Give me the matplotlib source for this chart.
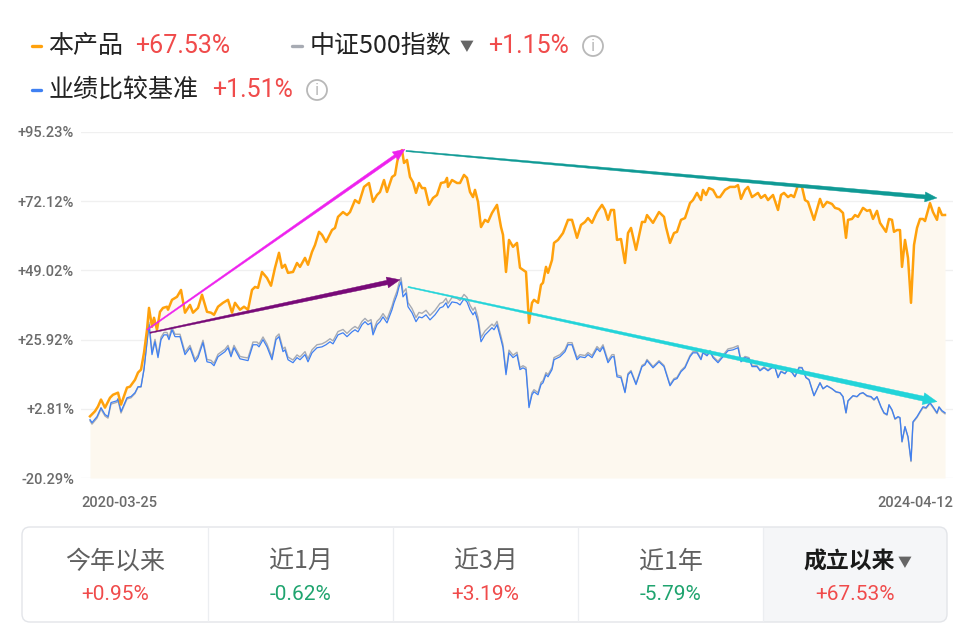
import numpy as np
import matplotlib
matplotlib.use('Agg')
import matplotlib.pyplot as plt
from matplotlib.patches import Polygon, FancyBboxPatch, Rectangle, Circle
from matplotlib.transforms import IdentityTransform

plt.rcParams['font.family'] = ['Noto Sans CJK SC', 'DejaVu Sans']

# ---------------- data ----------------
# session index (0 = 2020-03-25, 855 = 2024-04-12)
product_t = [0,5,8,11,15,20,23,28,31,37,
 40,45,48,51,54,57,59,62,64,67,
 70,73,77,78,82,87,91,95,100,103,
 108,112,117,121,124,128,133,138,142,145,
 150,154,158,162,165,168,172,177,181,185,
 189,192,195,198,203,207,210,215,218,222,
 225,229,232,236,242,245,248,253,257,260,
 265,269,274,279,283,287,290,294,297,302,
 305,307,309,312,314,317,320,323,326,329,
 332,335,339,343,347,351,355,357,358,362,
 367,370,374,377,380,383,385,388,391,395,
 398,402,407,411,413,416,419,423,427,430,
 433,436,439,442,444,448,451,453,456,458,
 462,464,468,473,478,482,487,491,495,498,
 502,507,512,515,518,521,524,527,531,535,
 538,541,546,552,555,557,563,569,574,576,
 580,584,587,591,595,600,603,607,611,613,
 616,619,623,627,630,635,640,645,648,651,
 655,658,662,665,668,671,675,678,683,688,
 691,694,698,701,704,708,712,715,718,724,
 730,733,737,742,745,749,753,756,758,762,
 765,768,773,777,780,783,787,790,796,799,
 802,804,807,810,812,815,818,821,824,827,
 830,833,835,840,843,847,849,852,855]
product_v = [0.3,2.0,3.6,5.9,3.2,6.5,7.5,8.2,4.2,9.9,
 10.2,12.5,14.9,15.9,21.5,29.2,36.5,30.2,33.2,29.2,
 35.2,36.5,36.9,35.9,39.2,40.2,42.5,34.9,37.5,34.9,
 36.5,40.9,35.2,34.9,34.2,36.9,38.2,39.2,34.9,38.2,
 35.9,36.9,35.9,42.5,43.5,43.2,48.5,46.5,43.9,49.9,
 54.9,49.9,50.9,48.2,48.5,51.5,50.2,53.2,50.9,55.2,
 57.5,61.9,60.9,58.5,62.5,63.2,66.9,68.5,67.5,68.5,
 72.5,71.5,76.9,78.2,71.9,74.2,75.2,79.2,75.2,80.2,
 80.9,84.9,88.2,89.2,84.9,85.9,80.2,78.5,74.9,78.2,
 76.5,76.5,70.9,73.2,74.2,78.2,78.5,79.9,76.9,79.2,
 78.2,78.2,80.9,79.9,75.2,73.5,75.9,71.9,63.5,65.9,
 65.2,68.2,70.9,63.5,60.9,48.5,59.2,56.9,58.2,49.9,
 49.2,48.5,31.5,38.2,39.2,38.2,44.2,44.9,50.2,48.2,
 52.5,58.2,59.2,61.5,65.9,65.9,59.9,64.2,65.2,66.5,
 64.9,68.5,70.9,69.2,65.9,69.2,69.2,59.2,59.5,51.5,
 61.5,63.2,55.9,65.2,65.2,67.5,64.9,68.5,66.9,63.5,
 58.2,61.5,61.9,65.9,66.5,71.5,72.5,74.9,72.5,75.9,
 74.2,76.5,75.9,73.5,73.5,75.9,76.9,76.9,77.5,72.9,
 75.9,76.9,73.5,74.2,74.9,73.2,74.2,72.5,74.2,69.2,
 74.2,74.9,73.5,74.2,73.5,77.5,76.9,72.5,71.9,65.9,
 72.9,70.2,71.9,71.2,69.9,69.5,68.2,59.9,65.9,66.2,
 67.5,66.9,69.9,68.9,69.2,66.2,68.9,64.9,61.9,66.2,
 65.9,61.9,62.5,62.5,50.2,59.2,53.2,38.2,57.5,63.2,
 66.2,66.2,65.5,71.5,68.5,65.9,69.9,67.5,67.53]

bench_t = [0,2,7,11,15,18,21,27,28,31,
 37,41,45,48,51,54,57,59,62,65,
 68,71,74,77,79,82,85,90,95,100,
 105,108,113,117,121,124,128,135,138,141,
 144,150,154,158,163,167,169,173,177,182,
 186,189,193,195,198,203,207,210,215,218,
 222,227,232,236,240,243,248,253,257,262,
 265,268,272,275,278,281,283,287,290,293,
 297,302,304,307,309,311,313,316,318,322,
 326,329,332,336,340,345,350,353,356,358,
 362,367,370,374,377,380,383,385,388,391,
 395,398,402,404,407,411,413,416,419,423,
 427,430,433,436,439,442,444,448,451,453,
 456,458,462,464,470,475,478,482,487,490,
 495,498,502,507,510,513,518,522,524,527,
 531,535,538,541,546,552,555,557,563,569,
 574,580,584,587,591,595,600,603,607,611,
 613,617,620,623,628,633,638,643,648,651,
 655,659,662,667,670,674,678,682,685,688,
 691,695,698,702,705,709,712,716,719,724,
 730,733,737,742,746,750,753,756,758,763,
 767,770,773,777,781,784,787,791,794,797,
 799,802,805,808,810,812,815,818,821,823,
 827,830,833,836,840,843,847,849,852,855]
bench_v = [-0.8,-1.8,0.2,3.2,0.9,0.2,4.9,5.5,6.2,1.9,
 6.5,6.9,8.2,10.2,10.2,15.9,24.9,30.9,20.9,25.2,
 19.9,25.9,27.5,27.5,25.9,29.2,26.9,26.9,20.9,23.2,
 18.5,19.9,24.9,18.5,18.2,17.2,20.2,21.9,23.2,20.2,
 23.2,19.5,19.2,18.9,24.2,24.2,23.5,25.9,23.5,19.2,
 25.9,26.9,21.9,22.5,19.2,18.2,19.9,19.2,20.9,18.5,
 21.5,23.2,23.5,24.2,25.2,24.5,27.5,28.2,26.9,28.5,
 29.2,28.5,30.9,31.9,30.9,31.5,27.5,30.9,31.9,33.5,
 31.5,35.9,38.2,40.9,43.5,45.2,40.2,41.5,36.9,34.9,
 31.9,33.5,33.2,34.2,32.5,34.2,36.5,36.9,38.2,36.5,
 38.5,38.2,37.5,39.5,38.5,35.9,34.2,35.2,31.9,25.2,
 27.5,28.5,29.9,29.2,30.9,25.9,23.2,14.2,21.5,19.9,
 20.9,15.9,16.5,15.9,3.2,7.5,8.5,7.5,10.9,11.5,
 14.2,13.5,15.9,19.2,20.2,21.9,24.2,24.2,19.2,20.2,
 19.9,20.9,19.9,22.9,21.9,23.5,18.2,20.2,20.2,13.5,
 13.2,8.2,14.2,15.2,10.9,16.9,17.5,18.9,16.5,18.5,
 16.9,10.5,12.5,12.9,15.2,16.5,20.2,21.5,21.5,19.2,
 21.5,20.5,21.9,19.9,18.2,20.2,22.2,22.5,23.2,18.5,
 19.9,19.5,16.9,16.9,15.5,16.5,15.5,16.5,16.5,13.2,
 15.2,14.5,15.9,14.9,13.5,16.5,16.5,13.2,12.5,7.2,
 11.5,9.5,10.5,9.5,8.5,8.2,6.9,1.5,5.5,7.2,
 6.9,7.9,8.2,7.2,6.9,5.9,6.9,3.5,1.5,0.9,
 4.2,2.5,-0.5,0.2,-0.1,-8.1,-3.1,-6.5,-14.5,-1.5,
 0.2,1.9,3.5,3.2,4.9,3.5,1.5,3.5,2.2,1.51]
index_v = [-1.2,-2.3,-0.3,2.7,0.4,-0.3,4.4,5.0,5.7,1.4,
 6.1,6.5,7.9,10.0,10.1,16.2,25.6,31.7,21.8,26.0,
 20.7,26.7,28.3,28.3,26.7,30.0,27.7,27.7,21.7,24.0,
 19.3,20.7,25.7,19.3,19.0,18.0,21.0,22.7,24.0,21.0,
 24.0,20.3,20.0,19.8,25.1,25.1,24.4,26.8,24.4,20.1,
 26.8,27.8,22.8,23.4,20.1,19.1,20.8,20.1,21.9,19.5,
 22.5,24.2,24.5,25.2,26.2,25.5,28.6,29.3,28.0,29.6,
 30.3,29.6,32.0,33.0,32.0,32.6,28.6,32.0,33.0,34.6,
 32.7,37.1,39.4,42.1,44.8,46.6,41.6,42.9,38.3,36.3,
 33.3,35.0,34.7,35.7,34.0,35.7,38.0,38.4,39.7,38.0,
 40.0,39.7,39.0,41.0,40.0,37.4,35.7,36.7,33.3,26.6,
 28.8,29.8,31.1,30.4,32.0,27.0,24.2,15.1,22.4,20.7,
 21.7,16.6,17.2,16.6,3.9,8.2,9.2,8.2,11.6,12.2,
 14.9,14.2,16.6,19.9,20.9,22.6,24.9,24.9,19.9,20.9,
 20.6,21.6,20.6,23.6,22.6,24.2,18.9,20.9,20.9,14.1,
 13.7,8.6,14.6,15.6,11.3,17.3,17.9,19.3,16.9,18.9,
 17.3,10.9,12.9,13.3,15.6,16.9,20.6,21.9,21.9,19.6,
 21.9,20.9,22.3,20.3,18.7,20.7,22.8,23.2,23.9,19.0,
 20.3,19.9,17.3,17.2,15.8,16.8,15.8,16.8,16.8,13.4,
 15.4,14.7,16.1,15.1,13.6,16.7,16.6,13.3,12.6,7.2,
 11.5,9.5,10.5,9.5,8.4,8.1,6.8,1.4,5.4,7.1,
 6.8,7.8,8.1,7.0,6.7,5.7,6.7,3.3,1.3,0.7,
 4.0,2.3,-0.7,0.0,-0.3,-8.3,-3.3,-6.7,-14.8,-1.8,
 -0.1,1.6,3.2,2.9,4.6,3.2,1.2,3.2,1.9,1.15]

y_ticks = [95.23, 72.12, 49.02, 25.92, 2.81, -20.29]
date_labels = ['2020-03-25', '2024-04-12']

legend_names = ['本产品', '中证500指数', '业绩比较基准']
legend_returns = [67.53, 1.15, 1.51]

period_names = ['今年以来', '近1月', '近3月', '近1年', '成立以来']
period_returns = [0.95, -0.62, 3.19, -5.79, 67.53]

# trend arrows: (t_start, v_start, t_end, v_end)
arrow_segments = [(57, 29.2, 315, 89.5), (60, 28.2, 310, 45.9),
                  (316, 88.9, 847, 73.2), (318, 43.5, 847, 5.2)]

# ---------------- style ----------------
W, H, DPI = 957, 628, 100
C_PRODUCT = '#ffa10c'
C_INDEX = '#a7abb3'
C_BENCH = '#3f80f2'
C_RED = '#f04b4b'
C_GREEN = '#1fa46f'
C_TICK = '#6b6b6b'
arrow_styles = [('#ee22ee', 3.0, 12, 10), ('#780a78', 4.5, 13, 11),
                ('#0f9a95', 4.0, 12, 10), ('#22d4d9', 5.0, 14, 12)]

fig = plt.figure(figsize=(W / DPI, H / DPI), dpi=DPI)
fig.patch.set_facecolor('white')


def fx(px):
    return px / W


def fy(py):
    return 1 - py / H


# overlay in pixel coordinates for legend and period tabs
ov = fig.add_axes([0, 0, 1, 1], zorder=-1)
ov.set_xlim(0, W)
ov.set_ylim(H, 0)
ov.axis('off')
ov.patch.set_alpha(0)

ax = fig.add_axes([fx(81), fy(478), fx(953) - fx(81), fy(132) - fy(478)])
ax.set_xlim(-9, 863)
ax.set_ylim(y_ticks[-1], y_ticks[0])
for s in ax.spines.values():
    s.set_visible(False)
ax.set_xticks([])
ax.set_yticks(y_ticks)
ax.set_yticklabels([f'{v:+.2f}%' for v in y_ticks])
ax.tick_params(axis='y', length=0, pad=5, labelsize=10.5, labelcolor=C_TICK)
for lbl in ax.get_yticklabels():
    lbl.set_fontfamily(['Roboto', 'DejaVu Sans'])
    lbl.set_fontweight('medium')
ax.grid(axis='y', color='#f0f0f0', lw=1)
ax.set_axisbelow(True)

ax.fill_between(product_t, product_v, y_ticks[-1], color='#fdf8ef', lw=0, zorder=1)
ax.plot(bench_t, index_v, color=C_INDEX, lw=1.0, zorder=3, solid_joinstyle='round')
ax.plot(bench_t, bench_v, color=C_BENCH, lw=0.9, zorder=3.5, solid_joinstyle='round')
ax.plot(product_t, product_v, color=C_PRODUCT, lw=1.8, zorder=4, solid_joinstyle='round')

ax.text(0, -0.072, date_labels[0], transform=ax.transAxes, ha='left', va='center',
        fontsize=10.5, color=C_TICK, family=['Roboto', 'DejaVu Sans'], fontweight='medium')
ax.text(1, -0.072, date_labels[1], transform=ax.transAxes, ha='right', va='center',
        fontsize=10.5, color=C_TICK, family=['Roboto', 'DejaVu Sans'], fontweight='medium')


def tapered_arrow(seg, style):
    t0, v0, t1, v1 = seg
    color, tail_w, head_l, head_w = style
    p0 = ax.transData.transform((t0, v0))
    p1 = ax.transData.transform((t1, v1))
    d = p1 - p0
    u = d / np.hypot(*d)
    n = np.array([-u[1], u[0]])
    b = p1 - u * head_l
    pts = [p0 + n * 0.6, b + n * tail_w / 2, b + n * head_w / 2, p1,
           b - n * head_w / 2, b - n * tail_w / 2, p0 - n * 0.6]
    poly = Polygon(pts, closed=True, fc=color, ec=color, lw=0.3,
                   transform=IdentityTransform(), zorder=6, clip_on=False)
    ax.add_artist(poly)


for seg, st in zip(arrow_segments, arrow_styles):
    tapered_arrow(seg, st)

# ---------------- legend ----------------
num_font = ['Roboto', 'DejaVu Sans']


def info_icon(cx, cy):
    ov.add_patch(Circle((cx, cy), 10, fill=False, ec='#b8b8b8', lw=1.3))
    ov.text(cx, cy + 0.5, 'i', ha='center', va='center', fontsize=11,
            color='#b8b8b8', family=['DejaVu Sans'])


def fmt(v):
    return f'{v:+.2f}%'


rows = [(46, C_PRODUCT, 48, legend_names[0], 135, legend_returns[0]),
        (90, C_BENCH, 48, legend_names[2], 212, legend_returns[2])]
for y, c, xn, name, xr, r in rows:
    ov.plot([32, 41], [y, y], color=c, lw=2.4, solid_capstyle='round')
    ov.text(xn, y, name, fontsize=18, va='center', color='#222222')
    ov.text(xr, y, fmt(r), fontsize=18, va='center', color=C_RED, family=num_font)

ov.plot([292, 302], [46, 46], color=C_INDEX, lw=2.4, solid_capstyle='round')
ov.text(310, 46, legend_names[1], fontsize=18, va='center', color='#222222')
ov.text(467, 47, '▼', fontsize=10, va='center', ha='center', color='#666666')
ov.text(488, 46, fmt(legend_returns[1]), fontsize=18, va='center', color=C_RED, family=num_font)
info_icon(593, 46)
info_icon(317, 90)

# ---------------- period tabs ----------------
box = FancyBboxPatch((22, 527), 925, 95, boxstyle='round,pad=0,rounding_size=8',
                     fc='white', ec='none')
ov.add_patch(box)
sel = Rectangle((763, 527), 184, 95, fc='#f5f6f8', ec='none')
ov.add_patch(sel)
sel.set_clip_path(box)
ov.add_patch(FancyBboxPatch((22, 527), 925, 95, boxstyle='round,pad=0,rounding_size=8',
                            fc='none', ec='#e3e5e9', lw=1))
edges = [22, 208, 393, 578, 763, 947]
for xd in edges[1:-1]:
    ov.plot([xd, xd], [528, 621], color='#eceef1', lw=0.9)
for i, (name, r) in enumerate(zip(period_names, period_returns)):
    cx = (edges[i] + edges[i + 1]) / 2
    col = C_RED if r >= 0 else C_GREEN
    if i == len(period_names) - 1:
        ov.text(cx - 6, 562, name, fontsize=16.5, ha='center', va='center',
                color='#1a1a1a', fontweight='bold')
        ov.text(cx + 50, 563, '▼', fontsize=10, ha='center', va='center', color='#666666')
    else:
        ov.text(cx, 562, name, fontsize=18, ha='center', va='center', color='#606060')
    ov.text(cx, 594, fmt(r), fontsize=15, ha='center', va='center', color=col, family=num_font)

fig.savefig('out.png', dpi=DPI, facecolor='white')
